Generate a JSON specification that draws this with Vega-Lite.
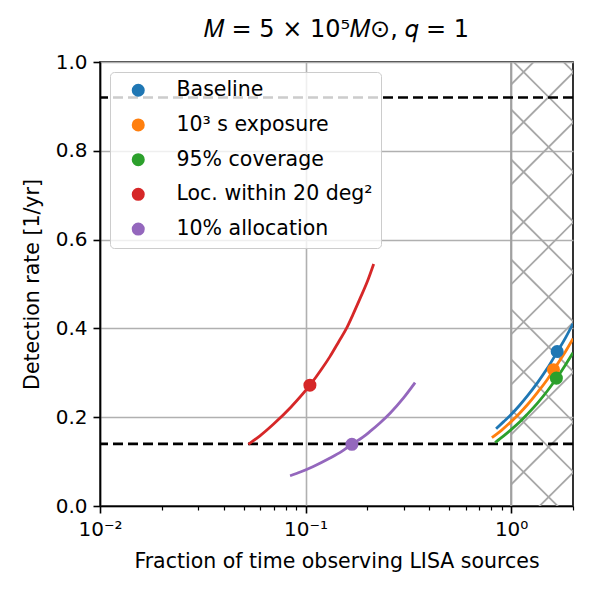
{
  "$schema": "https://vega.github.io/schema/vega-lite/v6.json",
  "autosize": {"type": "none"},
  "padding": {"left": 100, "top": 62, "right": 27, "bottom": 94},
  "width": 473,
  "height": 444,
  "background": "white",
  "config": {
    "font": "DejaVu Sans",
    "view": {"stroke": "black", "strokeWidth": 1.6},
    "axis": {
      "domainColor": "black",
      "domainWidth": 1.6,
      "tickColor": "black",
      "labelColor": "black",
      "titleColor": "black",
      "labelFont": "DejaVu Sans",
      "titleFont": "DejaVu Sans",
      "labelFontSize": 20,
      "titleFontSize": 20.5,
      "titleFontWeight": "normal",
      "gridColor": "#b0b0b0",
      "gridWidth": 1.6
    },
    "legend": {
      "title": null,
      "orient": "top-left",
      "offset": 10,
      "zindex": 2,
      "padding": 8,
      "symbolType": "circle",
      "symbolSize": 170,
      "symbolOffset": 10,
      "symbolStrokeWidth": 0,
      "labelOffset": 28,
      "labelFontSize": 20.5,
      "labelFont": "DejaVu Sans",
      "labelColor": "black",
      "labelLimit": 400,
      "rowPadding": 13.7,
      "fillColor": "rgba(255,255,255,0.8)",
      "strokeColor": "#cccccc",
      "cornerRadius": 4
    }
  },
  "title": {
    "text": "𝑀 = 5 × 10⁵𝑀⊙, 𝑞 = 1",
    "font": "DejaVu Sans",
    "fontSize": 24,
    "fontWeight": "normal",
    "color": "black",
    "anchor": "middle",
    "offset": 10
  },
  "datasets": {
    "curves": [
      {"series": "Baseline", "fraction": 0.845, "rate": 0.174},
      {"series": "Baseline", "fraction": 0.92, "rate": 0.190},
      {"series": "Baseline", "fraction": 1.0, "rate": 0.206},
      {"series": "Baseline", "fraction": 1.1, "rate": 0.227},
      {"series": "Baseline", "fraction": 1.2, "rate": 0.248},
      {"series": "Baseline", "fraction": 1.35, "rate": 0.279},
      {"series": "Baseline", "fraction": 1.5, "rate": 0.310},
      {"series": "Baseline", "fraction": 1.675, "rate": 0.347},
      {"series": "Baseline", "fraction": 1.85, "rate": 0.381},
      {"series": "Baseline", "fraction": 2.0, "rate": 0.411},
      {"series": "10³ s exposure", "fraction": 0.806, "rate": 0.154},
      {"series": "10³ s exposure", "fraction": 0.9, "rate": 0.171},
      {"series": "10³ s exposure", "fraction": 1.0, "rate": 0.190},
      {"series": "10³ s exposure", "fraction": 1.1, "rate": 0.209},
      {"series": "10³ s exposure", "fraction": 1.2, "rate": 0.228},
      {"series": "10³ s exposure", "fraction": 1.35, "rate": 0.257},
      {"series": "10³ s exposure", "fraction": 1.5, "rate": 0.285},
      {"series": "10³ s exposure", "fraction": 1.607, "rate": 0.306},
      {"series": "10³ s exposure", "fraction": 1.8, "rate": 0.341},
      {"series": "10³ s exposure", "fraction": 2.0, "rate": 0.377},
      {"series": "95% coverage", "fraction": 0.836, "rate": 0.143},
      {"series": "95% coverage", "fraction": 0.92, "rate": 0.158},
      {"series": "95% coverage", "fraction": 1.0, "rate": 0.172},
      {"series": "95% coverage", "fraction": 1.1, "rate": 0.189},
      {"series": "95% coverage", "fraction": 1.2, "rate": 0.207},
      {"series": "95% coverage", "fraction": 1.35, "rate": 0.233},
      {"series": "95% coverage", "fraction": 1.5, "rate": 0.259},
      {"series": "95% coverage", "fraction": 1.66, "rate": 0.287},
      {"series": "95% coverage", "fraction": 1.85, "rate": 0.320},
      {"series": "95% coverage", "fraction": 2.0, "rate": 0.345},
      {"series": "Loc. within 20 deg²", "fraction": 0.0527, "rate": 0.139},
      {"series": "Loc. within 20 deg²", "fraction": 0.06, "rate": 0.158},
      {"series": "Loc. within 20 deg²", "fraction": 0.0697, "rate": 0.184},
      {"series": "Loc. within 20 deg²", "fraction": 0.085, "rate": 0.223},
      {"series": "Loc. within 20 deg²", "fraction": 0.105, "rate": 0.272},
      {"series": "Loc. within 20 deg²", "fraction": 0.12, "rate": 0.309},
      {"series": "Loc. within 20 deg²", "fraction": 0.1316, "rate": 0.337},
      {"series": "Loc. within 20 deg²", "fraction": 0.145, "rate": 0.370},
      {"series": "Loc. within 20 deg²", "fraction": 0.1586, "rate": 0.401},
      {"series": "Loc. within 20 deg²", "fraction": 0.17, "rate": 0.431},
      {"series": "Loc. within 20 deg²", "fraction": 0.184, "rate": 0.467},
      {"series": "Loc. within 20 deg²", "fraction": 0.2, "rate": 0.506},
      {"series": "Loc. within 20 deg²", "fraction": 0.2145, "rate": 0.545},
      {"series": "10% allocation", "fraction": 0.0841, "rate": 0.068},
      {"series": "10% allocation", "fraction": 0.095, "rate": 0.077},
      {"series": "10% allocation", "fraction": 0.1091, "rate": 0.089},
      {"series": "10% allocation", "fraction": 0.1316, "rate": 0.108},
      {"series": "10% allocation", "fraction": 0.15, "rate": 0.123},
      {"series": "10% allocation", "fraction": 0.168, "rate": 0.139},
      {"series": "10% allocation", "fraction": 0.19, "rate": 0.155},
      {"series": "10% allocation", "fraction": 0.206, "rate": 0.168},
      {"series": "10% allocation", "fraction": 0.23, "rate": 0.187},
      {"series": "10% allocation", "fraction": 0.2577, "rate": 0.209},
      {"series": "10% allocation", "fraction": 0.299, "rate": 0.243},
      {"series": "10% allocation", "fraction": 0.341, "rate": 0.278}
    ],
    "markers": [
      {"series": "Baseline", "fraction": 1.675, "rate": 0.348},
      {"series": "10³ s exposure", "fraction": 1.607, "rate": 0.307},
      {"series": "95% coverage", "fraction": 1.66, "rate": 0.288},
      {"series": "Loc. within 20 deg²", "fraction": 0.105, "rate": 0.272},
      {"series": "10% allocation", "fraction": 0.168, "rate": 0.139}
    ],
    "thresholds": [
      {"rate": 0.92},
      {"rate": 0.14}
    ],
    "hatch": [
      {"fraction": 1, "fraction2": 2, "rate": 1.1182, "rate2": 0.9788},
      {"fraction": 1, "fraction2": 2, "rate": 1.0056, "rate2": 0.8662},
      {"fraction": 1, "fraction2": 2, "rate": 0.8930, "rate2": 0.7536},
      {"fraction": 1, "fraction2": 2, "rate": 0.7804, "rate2": 0.6410},
      {"fraction": 1, "fraction2": 2, "rate": 0.6678, "rate2": 0.5284},
      {"fraction": 1, "fraction2": 2, "rate": 0.5552, "rate2": 0.4158},
      {"fraction": 1, "fraction2": 2, "rate": 0.4426, "rate2": 0.3032},
      {"fraction": 1, "fraction2": 2, "rate": 0.3300, "rate2": 0.1905},
      {"fraction": 1, "fraction2": 2, "rate": 0.2173, "rate2": 0.0779},
      {"fraction": 1, "fraction2": 2, "rate": 0.1047, "rate2": -0.0347},
      {"fraction": 1, "fraction2": 2, "rate": 0.9493, "rate2": 1.0887},
      {"fraction": 1, "fraction2": 2, "rate": 0.8367, "rate2": 0.9761},
      {"fraction": 1, "fraction2": 2, "rate": 0.7241, "rate2": 0.8635},
      {"fraction": 1, "fraction2": 2, "rate": 0.6115, "rate2": 0.7509},
      {"fraction": 1, "fraction2": 2, "rate": 0.4989, "rate2": 0.6383},
      {"fraction": 1, "fraction2": 2, "rate": 0.3863, "rate2": 0.5257},
      {"fraction": 1, "fraction2": 2, "rate": 0.2736, "rate2": 0.4130},
      {"fraction": 1, "fraction2": 2, "rate": 0.1610, "rate2": 0.3004},
      {"fraction": 1, "fraction2": 2, "rate": 0.0484, "rate2": 0.1878},
      {"fraction": 1, "fraction2": 2, "rate": -0.0642, "rate2": 0.0752}
    ],
    "edge": [
      {"fraction": 1}
    ]
  },
  "layer": [
    {
      "data": {"name": "hatch"},
      "mark": {"type": "rule", "clip": true, "color": "#a8a8a8", "strokeWidth": 1.8},
      "encoding": {
        "x": {"field": "fraction", "type": "quantitative",
          "scale": {"type": "log", "domain": [0.01, 2], "nice": false},
          "axis": {
            "orient": "bottom",
            "values": [0.01, 0.02, 0.03, 0.04, 0.05, 0.06, 0.07, 0.08, 0.09, 0.1, 0.2, 0.3, 0.4, 0.5, 0.6, 0.7, 0.8, 0.9, 1, 2],
            "labelExpr": "datum.value == 0.01 ? '10⁻²' : datum.value == 0.1 ? '10⁻¹' : datum.value == 1 ? '10⁰' : ''",
            "title": "Fraction of time observing LISA sources",
            "titlePadding": 12,
            "labelPadding": 6,
            "labelFlush": false,
            "labelOverlap": false,
            "grid": true,
            "gridOpacity": {"condition": {"test": "datum.value == 0.01 || datum.value == 0.1 || datum.value == 1", "value": 1}, "value": 0},
            "tickSize": {"condition": {"test": "datum.value == 0.01 || datum.value == 0.1 || datum.value == 1", "value": 7}, "value": 4},
            "tickWidth": {"condition": {"test": "datum.value == 0.01 || datum.value == 0.1 || datum.value == 1", "value": 1.6}, "value": 1.2}
          }
        },
        "x2": {"field": "fraction2"},
        "y": {"field": "rate", "type": "quantitative",
          "scale": {"domain": [0, 1], "nice": false, "zero": false},
          "axis": {
            "values": [0, 0.2, 0.4, 0.6, 0.8, 1.0],
            "format": ".1f",
            "title": "Detection rate [1/yr]",
            "titlePadding": 13,
            "labelPadding": 6,
            "tickSize": 7,
            "tickWidth": 1.6,
            "grid": true
          }
        },
        "y2": {"field": "rate2"}
      }
    },
    {
      "data": {"name": "edge"},
      "mark": {"type": "rule", "color": "#a0a0a0", "strokeWidth": 2},
      "encoding": {
        "x": {"field": "fraction", "type": "quantitative"}
      }
    },
    {
      "data": {"name": "thresholds"},
      "mark": {"type": "rule", "color": "black", "strokeWidth": 2.6, "strokeDash": [10, 5]},
      "encoding": {
        "y": {"field": "rate", "type": "quantitative"}
      }
    },
    {
      "data": {"name": "curves"},
      "mark": {"type": "line", "strokeWidth": 2.8, "clip": true, "interpolate": "monotone"},
      "encoding": {
        "x": {"field": "fraction", "type": "quantitative"},
        "y": {"field": "rate", "type": "quantitative"},
        "color": {"field": "series", "type": "nominal",
          "scale": {
            "domain": ["Baseline", "10³ s exposure", "95% coverage", "Loc. within 20 deg²", "10% allocation"],
            "range": ["#1f77b4", "#ff7f0e", "#2ca02c", "#d62728", "#9467bd"]
          }
        }
      }
    },
    {
      "data": {"name": "markers"},
      "mark": {"type": "point", "shape": "circle", "filled": true, "opacity": 1, "size": 170},
      "encoding": {
        "x": {"field": "fraction", "type": "quantitative"},
        "y": {"field": "rate", "type": "quantitative"},
        "color": {"field": "series", "type": "nominal"}
      }
    }
  ]
}
